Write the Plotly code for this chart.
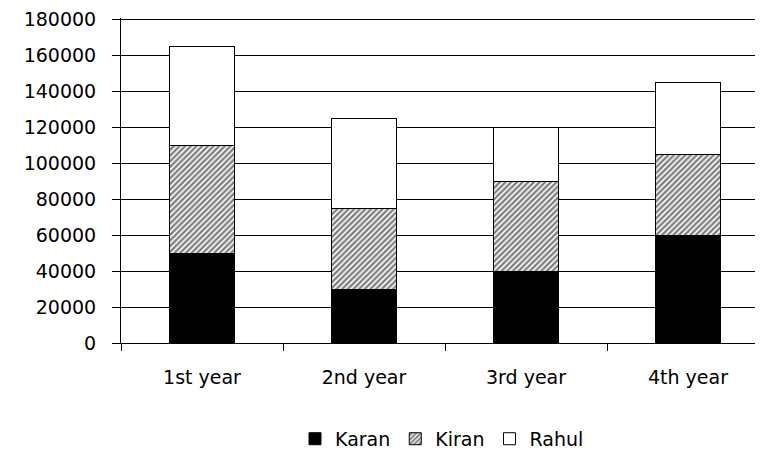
import plotly.graph_objects as go

categories = ["1st year", "2nd year", "3rd year", "4th year"]
karan = [50000, 30000, 40000, 60000]
kiran = [60000, 45000, 50000, 45000]
rahul = [55000, 50000, 30000, 40000]
y_ticks = [0, 20000, 40000, 60000, 80000, 100000, 120000, 140000, 160000, 180000]

FONT = "DejaVu Sans"
FS = 19

fig = go.Figure()
fig.add_trace(go.Bar(name="Karan", x=categories, y=karan,
                     marker=dict(color="black", line=dict(color="black", width=1))))
fig.add_trace(go.Bar(name="Kiran", x=categories, y=kiran,
                     marker=dict(color="white", line=dict(color="black", width=1),
                                 pattern=dict(shape="/", fgcolor="black", bgcolor="white",
                                              size=4, solidity=0.6, fillmode="overlay"))))
fig.add_trace(go.Bar(name="Rahul", x=categories, y=rahul,
                     marker=dict(color="white", line=dict(color="black", width=1))))

fig.update_layout(
    barmode="stack",
    bargap=0.6,
    width=755, height=445,
    margin=dict(l=113, r=0, t=10, b=110, autoexpand=False),
    paper_bgcolor="white", plot_bgcolor="white",
    font=dict(family=FONT, size=FS, color="black"),
    showlegend=True,
    legend=dict(orientation="h", x=0.5, xanchor="center", y=-0.295, yanchor="middle",
                font=dict(family=FONT, size=FS, color="black"),
                traceorder="normal", itemwidth=30),
    xaxis=dict(
        type="category",
        range=[-0.5, -0.5 + 642 / 162],
        showline=True, linecolor="black", linewidth=1,
        ticks="outside", tickson="boundaries", ticklen=7, tickcolor="black",
        showgrid=False, ticklabelstandoff=17, automargin=False,
        tickfont=dict(family=FONT, size=FS),
    ),
    yaxis=dict(
        range=[0, 180560],
        tickvals=y_ticks,
        ticktext=[str(v) for v in y_ticks],
        showline=True, linecolor="black", linewidth=1,
        ticks="outside", ticklen=8, tickcolor="black",
        showgrid=True, gridcolor="black", gridwidth=1,
        zeroline=False, ticklabelstandoff=12, automargin=False,
        ticklabeloverflow="allow",
        tickfont=dict(family=FONT, size=FS),
    ),
)

fig.write_html("out.html")
